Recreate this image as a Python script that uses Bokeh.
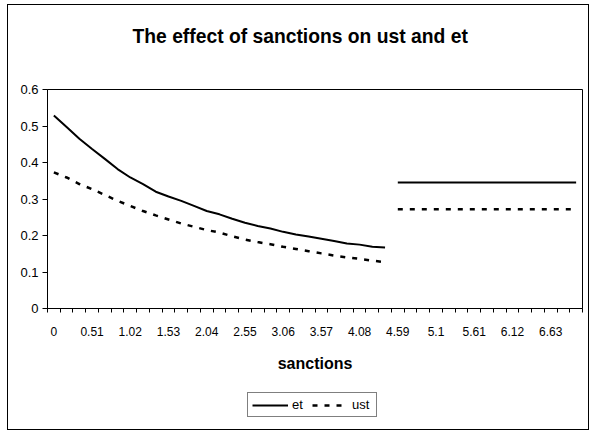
from bokeh.plotting import figure
from bokeh.layouts import column
from bokeh.models import FixedTicker, Legend, LegendItem, Range1d, ColumnDataSource, Label
from bokeh.embed import file_html
from bokeh.resources import INLINE

# ---- data ----
sanctions = [0, 0.17, 0.34, 0.51, 0.68, 0.85, 1.02, 1.19, 1.36, 1.53, 1.7, 1.87,
             2.04, 2.21, 2.38, 2.55, 2.72, 2.89, 3.06, 3.23, 3.4, 3.57, 3.74, 3.91,
             4.08, 4.25, 4.42, 4.59, 4.76, 4.93, 5.1, 5.27, 5.44, 5.61, 5.78, 5.95,
             6.12, 6.29, 6.46, 6.63, 6.8, 6.97]

et = [0.529, 0.497, 0.465, 0.437, 0.410, 0.382, 0.359, 0.341, 0.320, 0.307,
      0.295, 0.281, 0.267, 0.258, 0.246, 0.235, 0.226, 0.219, 0.210, 0.203,
      0.197, 0.191, 0.185, 0.178, 0.175, 0.169, 0.167,
      0.345, 0.345, 0.345, 0.345, 0.345, 0.345, 0.345, 0.345, 0.345, 0.345,
      0.345, 0.345, 0.345, 0.345, 0.345]

ust = [0.373, 0.359, 0.341, 0.327, 0.311, 0.295, 0.281, 0.267, 0.255, 0.244,
       0.233, 0.224, 0.215, 0.208, 0.198, 0.189, 0.182, 0.176, 0.169, 0.163,
       0.157, 0.151, 0.145, 0.140, 0.136, 0.131, 0.127,
       0.272, 0.272, 0.272, 0.272, 0.272, 0.272, 0.272, 0.272, 0.272, 0.272,
       0.272, 0.272, 0.272, 0.272, 0.272]

break_index = 27  # the curves are drawn as two separate pieces

x_tick_labels = ["0", "0.51", "1.02", "1.53", "2.04", "2.55", "3.06", "3.57",
                 "4.08", "4.59", "5.1", "5.61", "6.12", "6.63"]
y_ticks = [0, 0.1, 0.2, 0.3, 0.4, 0.5, 0.6]
y_tick_labels = ["0", "0.1", "0.2", "0.3", "0.4", "0.5", "0.6"]

title_text = "The effect of sanctions on ust and et"
x_title = "sanctions"
series_names = ["et", "ust"]

BORDERS = dict(min_border_left=40, min_border_right=7)


def strip(height):
    f = figure(width=582, height=height, output_backend="svg", toolbar_location=None,
               x_axis_type=None, y_axis_type=None,
               min_border_top=0, min_border_bottom=0, **BORDERS,
               background_fill_alpha=0, border_fill_alpha=0, outline_line_color=None)
    f.grid.grid_line_color = None
    return f


# ---- title strip ----
t = strip(60)
t.add_layout(Label(x=85, y=28, x_units="screen", y_units="screen",
                   text=title_text, text_align="left", text_baseline="alphabetic",
                   text_font="Liberation Sans", text_font_style="bold",
                   text_font_size="19.3px", text_color="black"))

# ---- main chart ----
n = len(sanctions)
xpos = [i + 0.5 for i in range(n)]

p = figure(width=582, height=320,
           x_range=Range1d(0, n), y_range=Range1d(0, 0.6),
           output_backend="svg", toolbar_location=None,
           min_border_top=25, min_border_bottom=76, **BORDERS,
           background_fill_color="white",
           border_fill_color="white", border_fill_alpha=0)

p.grid.grid_line_color = None
p.outline_line_color = "black"
p.outline_line_width = 1
p.outline_line_alpha = 1

src1 = ColumnDataSource(dict(x=xpos[:break_index], et=et[:break_index], ust=ust[:break_index]))
src2 = ColumnDataSource(dict(x=xpos[break_index:], et=et[break_index:], ust=ust[break_index:]))

et_style = dict(line_color="black", line_width=2)
ust_style = dict(line_color="black", line_width=2.5, line_dash="5 7")

p.line("x", "et", source=src1, **et_style)
p.line("x", "et", source=src2, **et_style)
p.line("x", "ust", source=src1, **ust_style)
p.line("x", "ust", source=src2, **ust_style)

# x axis: labels at every third category, ticks at category boundaries
label_pos = [i + 0.5 for i in range(0, n, 3)]
p.xaxis.ticker = FixedTicker(ticks=label_pos, minor_ticks=list(range(n + 1)))
p.xaxis.major_label_overrides = {pos: lab for pos, lab in zip(label_pos, x_tick_labels)}
p.xaxis.major_tick_out = 0
p.xaxis.major_tick_in = 0
p.xaxis.minor_tick_out = 4
p.xaxis.minor_tick_in = 0
p.xaxis.minor_tick_line_color = "black"
p.xaxis.major_label_standoff = 14
p.xaxis.major_label_text_font = "Liberation Sans"
p.xaxis.major_label_text_font_size = "12px"
p.xaxis.major_label_text_color = "black"
p.xaxis.axis_line_color = "black"
p.xaxis.axis_label = x_title
p.xaxis.axis_label_standoff = 16
p.xaxis.axis_label_text_font = "Liberation Sans"
p.xaxis.axis_label_text_font_style = "bold"
p.xaxis.axis_label_text_font_size = "16px"
p.xaxis.axis_label_text_color = "black"

p.yaxis.ticker = FixedTicker(ticks=y_ticks)
p.yaxis.major_label_overrides = {tk: lab for tk, lab in zip(y_ticks, y_tick_labels)}
p.yaxis.major_tick_out = 5
p.yaxis.major_tick_in = 0
p.yaxis.minor_tick_line_color = None
p.yaxis.major_label_standoff = 4
p.yaxis.major_label_text_font = "Liberation Sans"
p.yaxis.major_label_text_font_size = "13px"
p.yaxis.major_label_text_color = "black"
p.yaxis.axis_line_color = "black"

# ---- legend strip below the chart ----
q = strip(46)
q.x_range = Range1d(0, 1)
q.y_range = Range1d(0, 1)
lg_et = q.line(x=[-1, -1], y=[-1, -1], **et_style)
lg_ust = q.line(x=[-1, -1], y=[-1, -1], **ust_style)

legend = Legend(items=[LegendItem(label=series_names[0], renderers=[lg_et]),
                       LegendItem(label=series_names[1], renderers=[lg_ust])],
                orientation="horizontal", location=(200, 13),
                border_line_color="black", border_line_width=1,
                padding=4, spacing=0, margin=0,
                glyph_width=36, glyph_height=14, label_height=14,
                label_standoff=4,
                label_text_font="Liberation Sans",
                label_text_font_size="13px", label_text_color="black",
                background_fill_color="white", background_fill_alpha=1)
q.add_layout(legend)

layout = column(t, p, q, spacing=0, margin=(4, 0, 0, 7),
                styles={"background-color": "white",
                        "box-shadow": "inset 0 0 0 1px black"})

open("out.html", "w").write(file_html(layout, INLINE))
